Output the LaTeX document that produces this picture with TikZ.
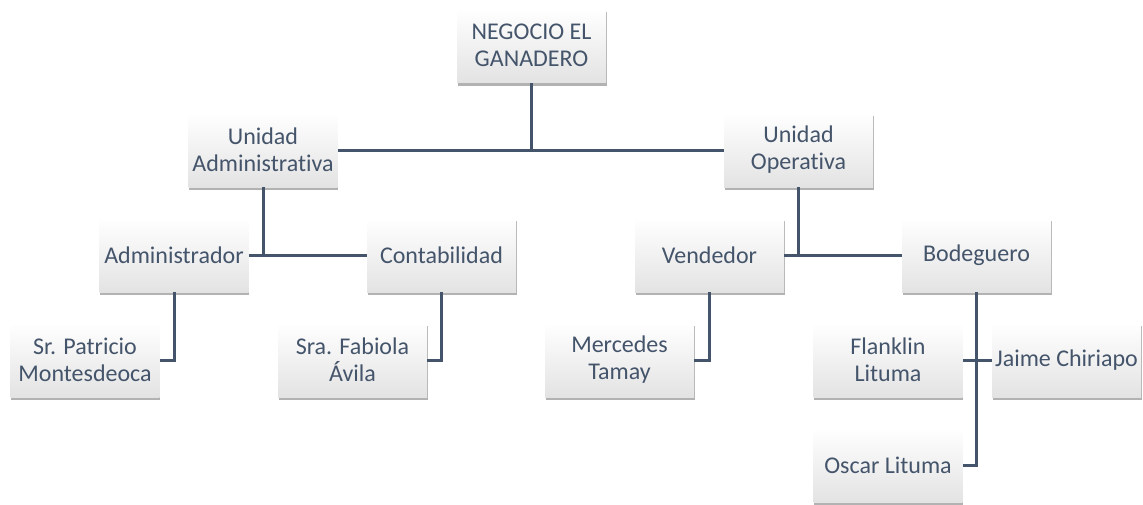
\documentclass[tikz,border=0pt]{standalone}
\usepackage{fontspec}
\setmainfont{Carlito}[Ligatures=NoCommon]
\usetikzlibrary{shadows}
\definecolor{slate}{HTML}{44546A}
\tikzset{
  orgbox/.style={rectangle, align=center, text=slate, minimum width=74.5pt, minimum height=37pt,
    inner sep=1pt, top color=white, bottom color=gray!22, font=\fontsize{12}{13.5}\selectfont,
    drop shadow={shadow xshift=0.3pt, shadow yshift=-1.6pt, fill=black, opacity=0.3}},
  link/.style={draw=slate, line width=1.5pt}
}
\begin{document}
\begin{tikzpicture}[x=0.5pt,y=-0.5pt]
\useasboundingbox (0,0) rectangle (1143,504);
% level 0 and 1
\node[orgbox] (neg) at (531.5,45.5) {NEGOCIO EL\\GANADERO};
\node[orgbox] (ua) at (263,150) {Unidad\\Administrativa};
\node[orgbox] (uo) at (798.5,150) {Unidad\\Operativa};
% level 2
\node[orgbox] (adm) at (174,255) {Administrador};
\node[orgbox] (cont) at (441.5,255) {Contabilidad};
\node[orgbox] (vend) at (709.5,255) {Vendedor};
\node[orgbox] (bod) at (976.5,255) {Bodeguero};
% level 3
\node[orgbox] (pat) at (85,360) {Sr. Patricio\\Montesdeoca};
\node[orgbox] (fab) at (352.5,360) {Sra. Fabiola\\Ávila};
\node[orgbox] (mer) at (619.5,360) {Mercedes\\Tamay};
\node[orgbox] (fla) at (888,360) {Flanklin\\Lituma};
\node[orgbox] (jai) at (1066.5,360) {Jaime Chiriapo};
\node[orgbox] (osc) at (888,465) {Oscar Lituma};
% connectors
\draw[link] (ua.east) -- (uo.west);
\draw[link] (neg.south) -- (neg.south |- ua.east);
\draw[link] (ua.south) -- (ua.south |- adm.east);
\draw[link] (adm.east) -- (cont.west);
\draw[link] (uo.south) -- (uo.south |- vend.east);
\draw[link] (vend.east) -- (bod.west);
\draw[link] (adm.south) |- (pat.east);
\draw[link] (cont.south) |- (fab.east);
\draw[link] (vend.south) |- (mer.east);
\draw[link] (bod.south) |- (osc.east);
\draw[link] (fla.east) -- (jai.west);
\end{tikzpicture}
\end{document}
